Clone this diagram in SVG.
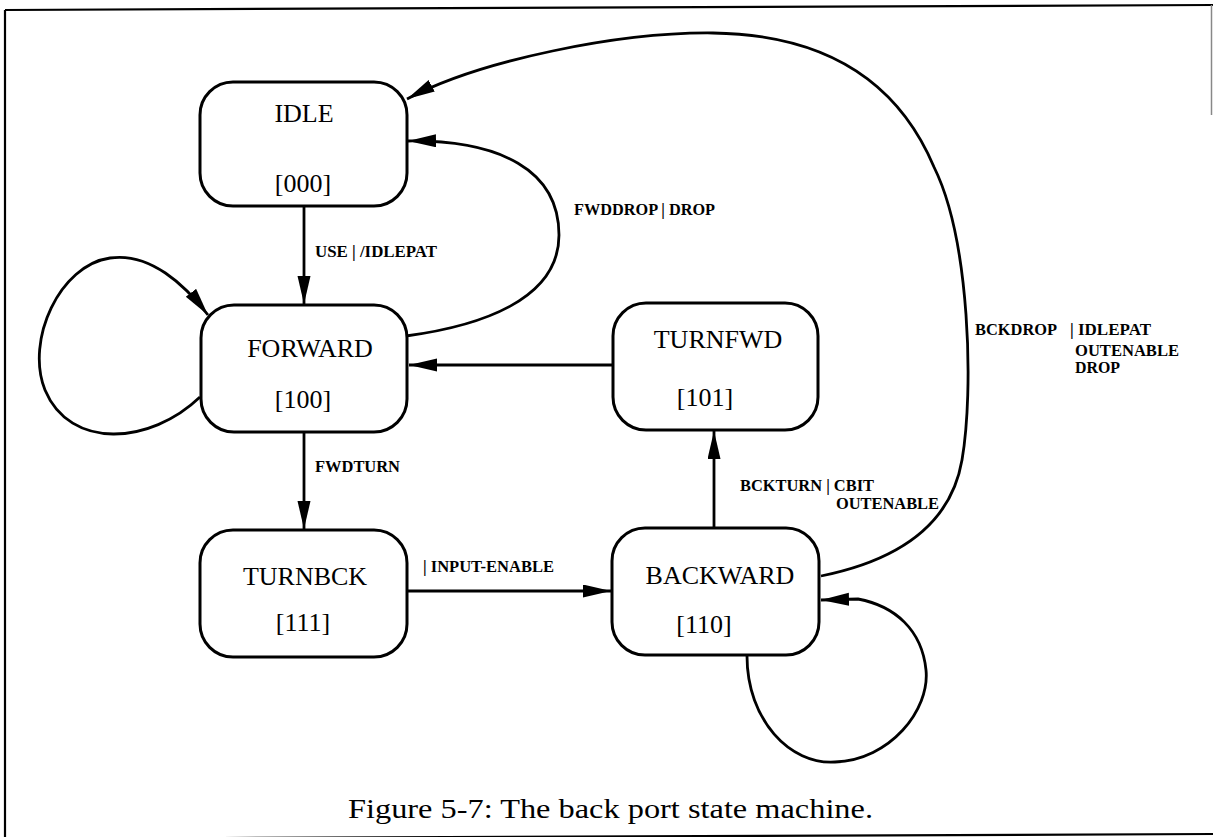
<svg xmlns="http://www.w3.org/2000/svg" width="1213" height="837" viewBox="0 0 1213 837">
<defs>
<style>
.node rect{fill:#fff;stroke:#000;stroke-width:3}
.nl{font-family:"Liberation Serif","Times New Roman",serif;font-size:26px;fill:#000;text-anchor:middle}
.el{font-family:"Liberation Serif","Times New Roman",serif;font-size:17px;font-weight:bold;fill:#000}
.edges path{fill:none;stroke:#000;stroke-width:2.8}
.frame{fill:none;stroke:#000;stroke-width:2.2}
.cap{font-family:"Liberation Serif","Times New Roman",serif;font-size:28px;fill:#000}
</style>
<marker id="ah" markerUnits="userSpaceOnUse" markerWidth="30" markerHeight="14" refX="28" refY="6.5" orient="auto">
<path d="M0,0 L28,6.5 L0,13 Z" fill="#000"/>
</marker>
</defs>
<rect x="0" y="0" width="1213" height="837" fill="#fff"/>
<g id="frame">
<path class="frame" d="M5,10 L1213,5"/>
<path class="frame" d="M5,10 L5,837"/>
<path class="frame" d="M5,839 L1213,834"/>
<path d="M1211.5,5 L1211.5,115" fill="none" stroke="#888" stroke-width="1.5"/>
</g>
<g class="edges" id="connectors">
<path d="M304,206 L304,304" marker-end="url(#ah)"/>
<path d="M304,432 L304,529" marker-end="url(#ah)"/>
<path d="M407,591 L611,591" marker-end="url(#ah)"/>
<path d="M714,528 L714,431" marker-end="url(#ah)"/>
<path d="M613,365 L409,365" marker-end="url(#ah)"/>
<path d="M406,336 C480,326 559,300 559,235 C559,170 500,140 408,141" marker-end="url(#ah)"/>
<path d="M821,576 C890,562 950,530 962,460 C974,390 970,240 934,167 C912,115 860,35 713,33 C620,32 480,60 407,99" marker-end="url(#ah)"/>
<path d="M200,397 C150,445 70,450 45,390 C25,340 60,265 110,258 C150,252 185,285 208,315" marker-end="url(#ah)"/>
<path d="M747,656 C747,720 790,765 835,762 C890,760 930,710 926,670 C922,630 895,606 858,599 L821,600" marker-end="url(#ah)"/>
</g>
<g id="edge-labels">
<text class="el" x="315" y="257" textLength="122" lengthAdjust="spacingAndGlyphs">USE | /IDLEPAT</text>
<text class="el" x="574" y="215" textLength="141" lengthAdjust="spacingAndGlyphs">FWDDROP | DROP</text>
<text class="el" x="315" y="472" textLength="85" lengthAdjust="spacingAndGlyphs">FWDTURN</text>
<text class="el" x="423" y="572" textLength="131" lengthAdjust="spacingAndGlyphs">| INPUT-ENABLE</text>
<text class="el" x="740" y="491" textLength="134" lengthAdjust="spacingAndGlyphs">BCKTURN | CBIT</text>
<text class="el" x="836" y="509" textLength="103" lengthAdjust="spacingAndGlyphs">OUTENABLE</text>
<text class="el" x="975" y="335" textLength="82" lengthAdjust="spacingAndGlyphs">BCKDROP</text>
<text class="el" x="1070" y="335" textLength="81" lengthAdjust="spacingAndGlyphs">| IDLEPAT</text>
<text class="el" x="1075" y="356" textLength="104" lengthAdjust="spacingAndGlyphs">OUTENABLE</text>
<text class="el" x="1075" y="373" textLength="45" lengthAdjust="spacingAndGlyphs">DROP</text>
</g>
<g class="node" id="idle">
<rect x="200" y="82" width="207" height="124" rx="33" ry="33"/>
<text class="nl" x="304" y="122">IDLE</text>
<text class="nl" x="303" y="192">[000]</text>
</g>
<g class="node" id="forward">
<rect x="201" y="305" width="206" height="127" rx="33" ry="33"/>
<text class="nl" x="310" y="357">FORWARD</text>
<text class="nl" x="303" y="408">[100]</text>
</g>
<g class="node" id="turnbck">
<rect x="200" y="530" width="207" height="127" rx="33" ry="33"/>
<text class="nl" x="305" y="585">TURNBCK</text>
<text class="nl" x="303" y="631">[111]</text>
</g>
<g class="node" id="turnfwd">
<rect x="613" y="303" width="205" height="127" rx="33" ry="33"/>
<text class="nl" x="718" y="348">TURNFWD</text>
<text class="nl" x="705" y="406">[101]</text>
</g>
<g class="node" id="backward">
<rect x="612" y="528" width="207" height="127" rx="33" ry="33"/>
<text class="nl" x="720" y="584">BACKWARD</text>
<text class="nl" x="704" y="633">[110]</text>
</g>
<text class="cap" x="348" y="818" textLength="525" lengthAdjust="spacingAndGlyphs">Figure 5-7: The back port state machine.</text>
</svg>
